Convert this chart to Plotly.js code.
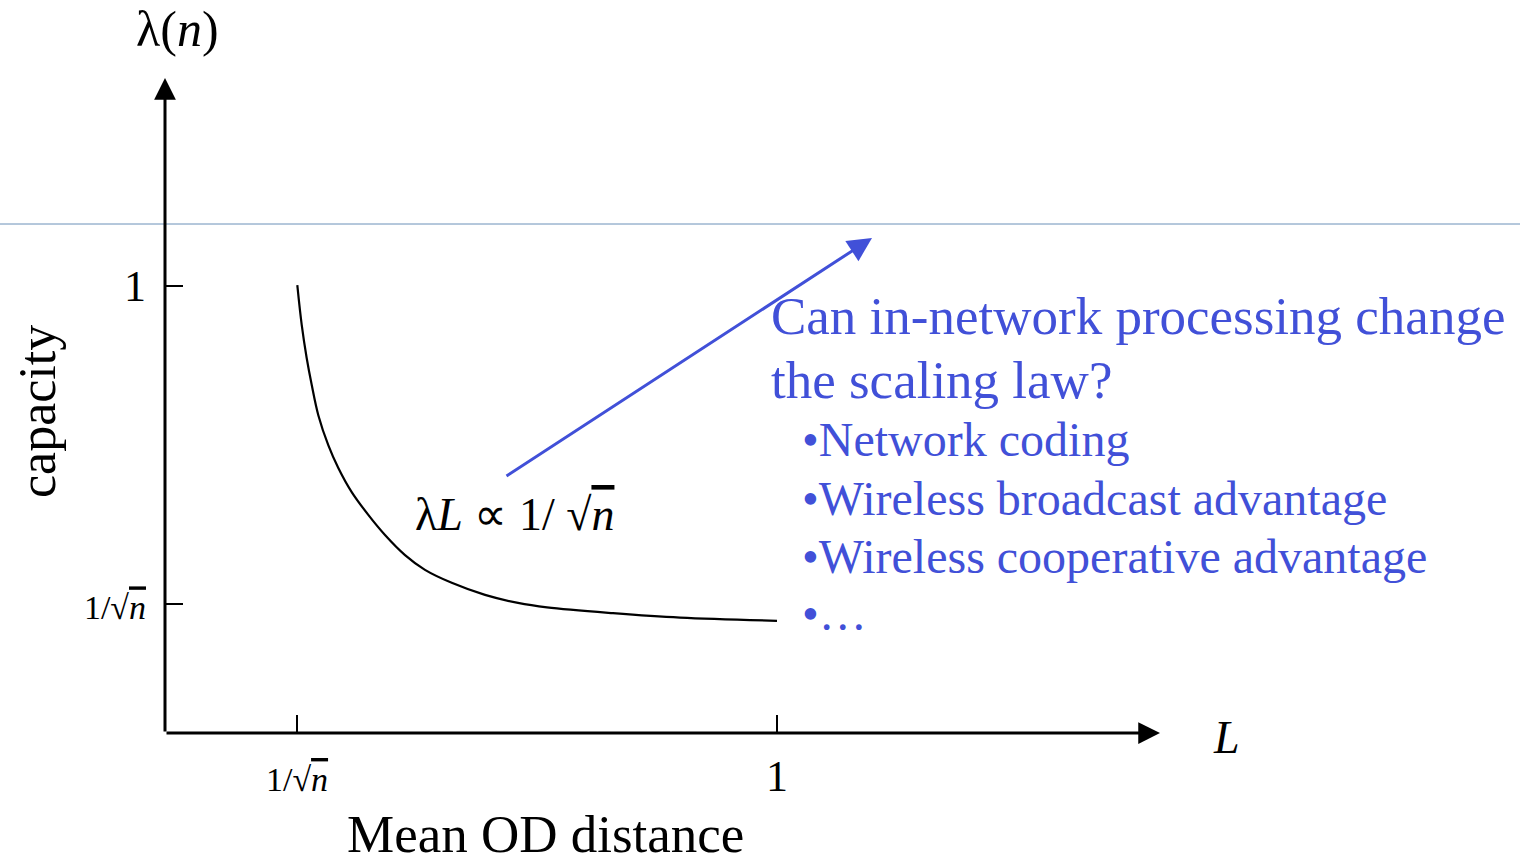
<!DOCTYPE html>
<html>
<head>
<meta charset="utf-8">
<script src="https://cdn.plot.ly/plotly-3.0.1.min.js"></script>
<style>
html,body{margin:0;padding:0;background:#fff;}
#chart{width:1520px;height:862px;}
</style>
</head>
<body>
<div id="chart"></div>
<script>
// ---- data ----
const odDistance = [0.2162, 0.2234, 0.2315, 0.2397, 0.2505, 0.2668, 0.2832, 0.3051, 0.3322, 0.3595, 0.3922, 0.4248, 0.4685, 0.5229, 0.5768, 0.6242, 0.7320, 0.8415, 1.0];
const capacity   = [1.002, 0.913, 0.839, 0.779, 0.711, 0.644, 0.593, 0.539, 0.488, 0.443, 0.398, 0.365, 0.336, 0.309, 0.291, 0.281, 0.268, 0.258, 0.251];

const invSqrtN = 0.2157;        // position of 1/sqrt(n) on the L axis
const invSqrtNy = 0.2886;       // position of 1/sqrt(n) on the capacity axis
const xTickVals = [invSqrtN, 1];
const yTickVals = [invSqrtNy, 1];
const sqrtLabel = "<span style='font-size:34px'>1/√<i><span style='text-decoration:overline'>n</span></i></span>";
const xTickText = [sqrtLabel, "1"];
const yTickText = [sqrtLabel, "1"];

const questionLines = ["Can in-network processing change", "the scaling law?"];
const bulletLines = ["•Network coding", "•Wireless broadcast advantage", "•Wireless cooperative advantage", "•…"];

// ---- layout geometry ----
const W = 1520, H = 862;
const M = {l:165, r:0, t:0, b:129};
const plotW = W - M.l - M.r, plotH = H - M.t - M.b;
const xUnit = 612, yUnit = 447;   // pixels per unit
const px = x => (x - M.l) / plotW;
const py = y => (H - M.b - y) / plotH;

const serif = "Liberation Serif, Times New Roman, serif";
const blue = "#4150d8";

const trace = {
  x: odDistance, y: capacity, type: 'scatter', mode: 'lines',
  line: {color: '#000', width: 2.2, shape: 'spline', smoothing: 1},
  hoverinfo: 'skip', showlegend: false
};

const ann = [];
function txt(text, x, y, size, opts) {
  ann.push(Object.assign({
    text: text, xref: 'paper', yref: 'paper', x: px(x), y: py(y),
    xanchor: 'center', yanchor: 'middle', showarrow: false,
    font: {family: serif, size: size, color: '#000'}
  }, opts || {}));
}
txt("λ(<i>n</i>)", 177, 29, 50);
txt("capacity", 37, 412, 52, {textangle: -90});
txt("Mean OD distance", 545, 834, 53);
txt("<i>L</i>", 1226, 737, 46);
txt("λ<i>L</i> ∝ 1/ √<i><span style='text-decoration:overline'>n</span></i>", 413, 514, 46, {xanchor: 'left'});
const qY = [316, 380];
questionLines.forEach((t, i) => txt(t, 769, qY[i], 53, {xanchor: 'left', font: {family: serif, size: 53, color: blue}}));
const bY = [440, 498, 556, 613];
bulletLines.forEach((t, i) => txt(t, 800, bY[i], 48, {xanchor: 'left', font: {family: serif, size: 48, color: blue}}));

// arrows (data coords)
const yTip = (H - M.b - 78) / yUnit;
const xTip = (1160 - M.l) / xUnit;
ann.push({x: 0, y: yTip, ax: 0, ay: 0, xref: 'x', yref: 'y', axref: 'x', ayref: 'y',
  text: '', showarrow: true, arrowhead: 2, arrowsize: 1.45, arrowwidth: 3, arrowcolor: '#000'});
ann.push({x: xTip, y: 0, ax: 0, ay: 0, xref: 'x', yref: 'y', axref: 'x', ayref: 'y',
  text: '', showarrow: true, arrowhead: 2, arrowsize: 1.45, arrowwidth: 3, arrowcolor: '#000'});
// blue pointer arrow
ann.push({x: (872 - M.l) / xUnit, y: (H - M.b - 238) / yUnit,
  ax: (505 - M.l) / xUnit, ay: (H - M.b - 477) / yUnit,
  xref: 'x', yref: 'y', axref: 'x', ayref: 'y',
  text: '', showarrow: true, arrowhead: 2, arrowsize: 1.6, arrowwidth: 3, arrowcolor: blue});

const layout = {
  width: W, height: H,
  margin: M,
  paper_bgcolor: '#fff', plot_bgcolor: '#fff',
  showlegend: false,
  xaxis: {
    range: [0, plotW / xUnit], showgrid: false, zeroline: false, showline: false,
    tickmode: 'array', tickvals: xTickVals, ticktext: xTickText,
    ticks: 'inside', ticklen: 18, tickwidth: 2, tickcolor: '#000',
    ticklabelstandoff: 13,
    tickfont: {family: serif, size: 44, color: '#000'}, fixedrange: true
  },
  yaxis: {
    range: [0, plotH / yUnit], showgrid: false, zeroline: false, showline: false,
    tickmode: 'array', tickvals: yTickVals, ticktext: yTickText,
    ticks: 'inside', ticklen: 18, tickwidth: 2, tickcolor: '#000',
    ticklabelstandoff: 18,
    tickfont: {family: serif, size: 44, color: '#000'}, fixedrange: true
  },
  shapes: [{
    type: 'line', xref: 'paper', yref: 'paper',
    x0: px(0), x1: px(W), y0: py(224), y1: py(224),
    line: {color: '#6a90b8', width: 1}, layer: 'above'
  }],
  annotations: ann
};

Plotly.newPlot('chart', [trace], layout, {staticPlot: true, displayModeBar: false});
</script>
</body>
</html>
